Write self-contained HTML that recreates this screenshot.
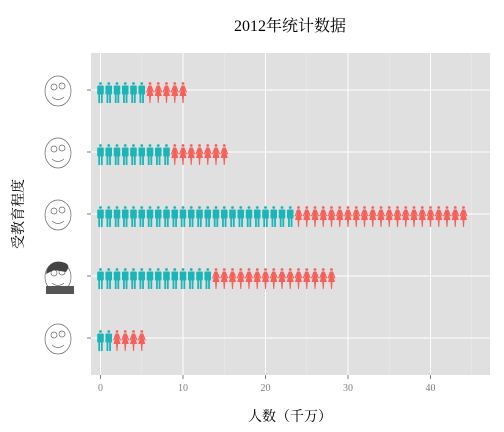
<!DOCTYPE html>
<html><head><meta charset="utf-8"><style>
body{margin:0;background:#fff;width:504px;height:432px;overflow:hidden}
svg{display:block}
text{font-family:"Liberation Serif","Noto Serif CJK SC",serif}
</style></head><body>
<svg id="chart" width="504" height="432">
<text x="290" y="31" font-size="16" text-anchor="middle" fill="#000">2012年统计数据</text>
<rect x="91" y="53" width="399" height="322" fill="#E0E0E0"/>
<g id="grid"></g>
<g id="marks"></g>
<g id="axes"></g>
<text x="290" y="421" font-size="14" text-anchor="middle">人数（千万）</text>
<text transform="translate(23,214) rotate(-90)" font-size="14" text-anchor="middle">受教育程度</text>
<g id="faces"></g>
</svg>
<script>
const categories=["level-1","level-2","level-3","level-4","level-5"];
const maleCounts=[6,9,24,14,2];
const femaleCounts=[5,7,21,15,4];
const xTicks=[0,10,20,30,40];
const xMinor=[5,15,25,35,45];
const NS="http://www.w3.org/2000/svg";
const x=v=>100.5+v*8.25;
const yc=[90,152,214,276,338];
const y=i=>yc[i];
function mk(t,a,p){const e=document.createElementNS(NS,t);for(const k in a)e.setAttribute(k,a[k]);p.appendChild(e);return e;}
const grid=document.getElementById('grid'),marks=document.getElementById('marks'),axes=document.getElementById('axes'),faces=document.getElementById('faces');
xMinor.forEach(v=>{const l=mk('line',{x1:x(v),x2:x(v),y1:53,y2:375,stroke:'#EBEBEB','stroke-width':0.6},grid);

});
xTicks.forEach(v=>{const l=mk('line',{x1:x(v),x2:x(v),y1:53,y2:375,stroke:'#fff','stroke-width':1},grid);


const t=mk('line',{x1:x(v),x2:x(v),y1:375,y2:379,stroke:'#7f7f7f'},axes);


const tx=mk('text',{x:x(v),y:391,'font-size':10,'text-anchor':'middle',fill:'#7f7f7f'},axes);tx.textContent=v;

});
categories.forEach((c,i)=>{const l=mk('line',{x1:91,x2:490,y1:y(i),y2:y(i),stroke:'#fff','stroke-width':1},grid);


const t=mk('line',{x1:87,x2:91,y1:y(i),y2:y(i),stroke:'#7f7f7f'},axes);

});
function male(cx,cy){const g=mk('g',{fill:'#1BB5B8'},marks);


mk('circle',{cx:cx,cy:cy-10.5,r:1.4},g);
mk('rect',{x:cx-3.3,y:cy-8.5,width:6.6,height:9,rx:1},g);
mk('rect',{x:cx-2.2,y:cy,width:1.8,height:9},g);
mk('rect',{x:cx+0.4,y:cy,width:1.8,height:9},g);}
function female(cx,cy){const g=mk('g',{fill:'#F5605A'},marks);


mk('circle',{cx:cx,cy:cy-10.5,r:1.4},g);
mk('path',{d:`M${cx-1.5} ${cy-8.5}L${cx+1.5} ${cy-8.5}L${cx+4} ${cy-2}L${cx+3} ${cy-1.5}L${cx+1.5} ${cy-5}L${cx+3.5} ${cy+2}L${cx+1} ${cy+2}L${cx+0.5} ${cy+9}L${cx-0.5} ${cy+9}L${cx-1} ${cy+2}L${cx-3.5} ${cy+2}L${cx-1.5} ${cy-5}L${cx-3} ${cy-1.5}L${cx-4} ${cy-2}Z`},g);}
categories.forEach((c,i)=>{for(let k=0;k<maleCounts[i];k++)male(x(k),y(i)+4);
for(let k=0;k<femaleCounts[i];k++)female(x(maleCounts[i]+k),y(i)+4);
const f=mk('g',{fill:'none',stroke:'#666','stroke-width':0.7},faces);


const fx=58,fy=y(i);
mk('ellipse',{cx:fx,cy:fy+1,rx:13,ry:15},f);
mk('circle',{cx:fx-4,cy:fy-3,r:3},f);mk('circle',{cx:fx+4,cy:fy-4,r:3},f);
mk('path',{d:`M${fx-6} ${fy+7}Q${fx} ${fy+12} ${fx+6} ${fy+7}`},f);
if(i===3){const h=mk('path',{d:`M${fx-12} ${fy-2}Q${fx-10} ${fy-16} ${fx+4} ${fy-14}Q${fx+14} ${fy-12} ${fx+8} ${fy-4}L${fx-4} ${fy-6}Z`,fill:'#444',stroke:'none'},faces);


const b=mk('rect',{x:fx-12,y:fy+10,width:28,height:8,fill:'#555',stroke:'none'},faces);

}});
</script>
</body></html>
